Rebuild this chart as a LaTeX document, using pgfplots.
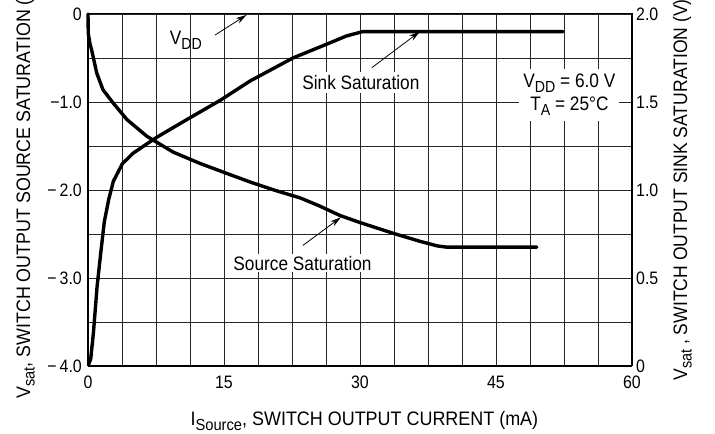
\documentclass[border=0pt]{standalone}
\usepackage{fontspec}
\setmainfont{Liberation Sans}[FakeStretch=0.885]
\newfontfamily\ylabfont{Liberation Sans}[FakeStretch=0.915]
\newfontfamily\ylabfontr{Liberation Sans}[FakeStretch=0.9]
\newfontfamily\xlabfont{Liberation Sans}[FakeStretch=0.92]
\usepackage{pgfplots}
\usepackage{pgfplotstable}
\pgfplotsset{compat=1.18}
\usetikzlibrary{arrows.meta}
\newcommand{\sub}[1]{\raisebox{-0.45ex}{\fontsize{16}{16}\selectfont #1}}

\pgfplotstableread{
x y
0 0
0.03 -0.22
0.2 -0.33
0.47 -0.44
0.96 -0.67
1.65 -0.86
2.76 -1.01
4.3 -1.2
6.5 -1.39
9.4 -1.57
12.4 -1.70
15 -1.80
17.9 -1.91
20.5 -2.00
23.4 -2.09
25.5 -2.18
27.8 -2.29
30 -2.37
33.6 -2.49
36.5 -2.58
38.5 -2.635
39.6 -2.65
49.5 -2.65
}\sourcedata

\pgfplotstableread{
x y
0 0
0.3 0.04
0.6 0.19
1.0 0.45
1.4 0.64
1.8 0.82
2.3 0.95
2.8 1.05
3.8 1.15
5.0 1.21
7.6 1.30
10.9 1.40
14.6 1.51
17.9 1.62
22.6 1.75
26.4 1.83
28.5 1.875
30.3 1.90
52.4 1.90
}\sinkdata

\begin{document}
\fontsize{19.5}{22}\selectfont
\begin{tikzpicture}[font=\fontsize{19.5}{22}\selectfont]
\begin{axis}[
  scale only axis, width=544pt, height=352pt,
  xmin=0, xmax=60, ymin=-4, ymax=0,
  clip=false,
  xtick={0,15,30,45,60}, xticklabels={0,15,30,45,60},
  minor xtick={3.75,7.5,11.25,18.75,22.5,26.25,33.75,37.5,41.25,48.75,52.5,56.25},
  ytick={-4,-3,-2,-1,0}, yticklabels={−\,4.0,−\,3.0,−\,2.0,−1.0,0},
  minor ytick={-3.5,-2.5,-1.5,-0.5},
  grid=both,
  major grid style={black!85, line width=0.9pt},
  minor grid style={black!85, line width=0.9pt},
  major tick length=0pt, minor tick length=0pt,
  axis line style={line width=1pt},
  ticklabel style={font=\fontsize{18}{20}\selectfont},
  yticklabel style={inner xsep=6pt},
  xticklabel style={yshift=-3pt},
  xlabel={\xlabfont I\sub{Source}, SWITCH OUTPUT CURRENT (mA)},
  xlabel style={at={(axis description cs:0.508,0)}, anchor=base, yshift=-60pt},
  ylabel={\ylabfont V\sub{sat}, SWITCH OUTPUT SOURCE SATURATION (V)},
  ylabel style={at={(axis description cs:-0.1066,0.5)}, anchor=base},
]
\coordinate (SW) at (rel axis cs:0,0);
\coordinate (NE) at (rel axis cs:1,1);
\draw[line width=2.5pt] (rel axis cs:0,0) -- (rel axis cs:1,0);
\draw[line width=2.5pt] (rel axis cs:0,0) -- (rel axis cs:0,1);
\addplot[black, line width=3.4pt, line join=round, line cap=round] table[x=x,y=y] {\sourcedata};
\node[fill=white, inner sep=2pt] at (axis cs:23.66,-2.83) {Source Saturation};
\node[fill=white, inner sep=3pt] at (axis cs:30.1,-0.78) {Sink Saturation};
\node[fill=white, inner xsep=4pt, inner ysep=5pt, align=center] at (axis cs:53.1,-0.92)
  {V\sub{DD} = 6.0 V\\[1pt]T\sub{A} = 25°C};
\node at (axis cs:10.8,-0.3) {V\sub{DD}};
\draw[line width=0.8pt, -{Stealth[length=11pt,width=6pt]}] (axis cs:14.0,-0.24) -- (axis cs:17.5,-0.01);
\draw[line width=0.8pt, -{Stealth[length=11pt,width=6pt]}] (axis cs:31.3,-0.61) -- (axis cs:36.6,-0.2);
\draw[line width=0.8pt, -{Stealth[length=11pt,width=6pt]}] (axis cs:23.7,-2.63) -- (axis cs:27.9,-2.31);
\end{axis}
\begin{axis}[
  scale only axis, width=544pt, height=352pt,
  xmin=0, xmax=60, ymin=0, ymax=2,
  axis x line=none, axis y line*=right,
  ytick={0,0.5,1,1.5,2}, yticklabels={0,0.5,1.0,1.5,2.0},
  major tick length=0pt,
  axis line style={line width=1.2pt},
  ticklabel style={font=\fontsize{18}{20}\selectfont},
  yticklabel style={inner xsep=4pt},
  ylabel={\ylabfontr V\sub{sat} , SWITCH OUTPUT SINK SATURATION (V)},
  ylabel style={at={(axis description cs:1.1011,0.5)}, anchor=base},
]
\addplot[black, line width=3.4pt, line join=round, line cap=round] table[x=x,y=y] {\sinkdata};
\end{axis}
\pgfresetboundingbox
\path ([xshift=-88pt,yshift=-68pt]SW) rectangle ([xshift=83pt,yshift=14pt]NE);
\end{tikzpicture}
\end{document}
